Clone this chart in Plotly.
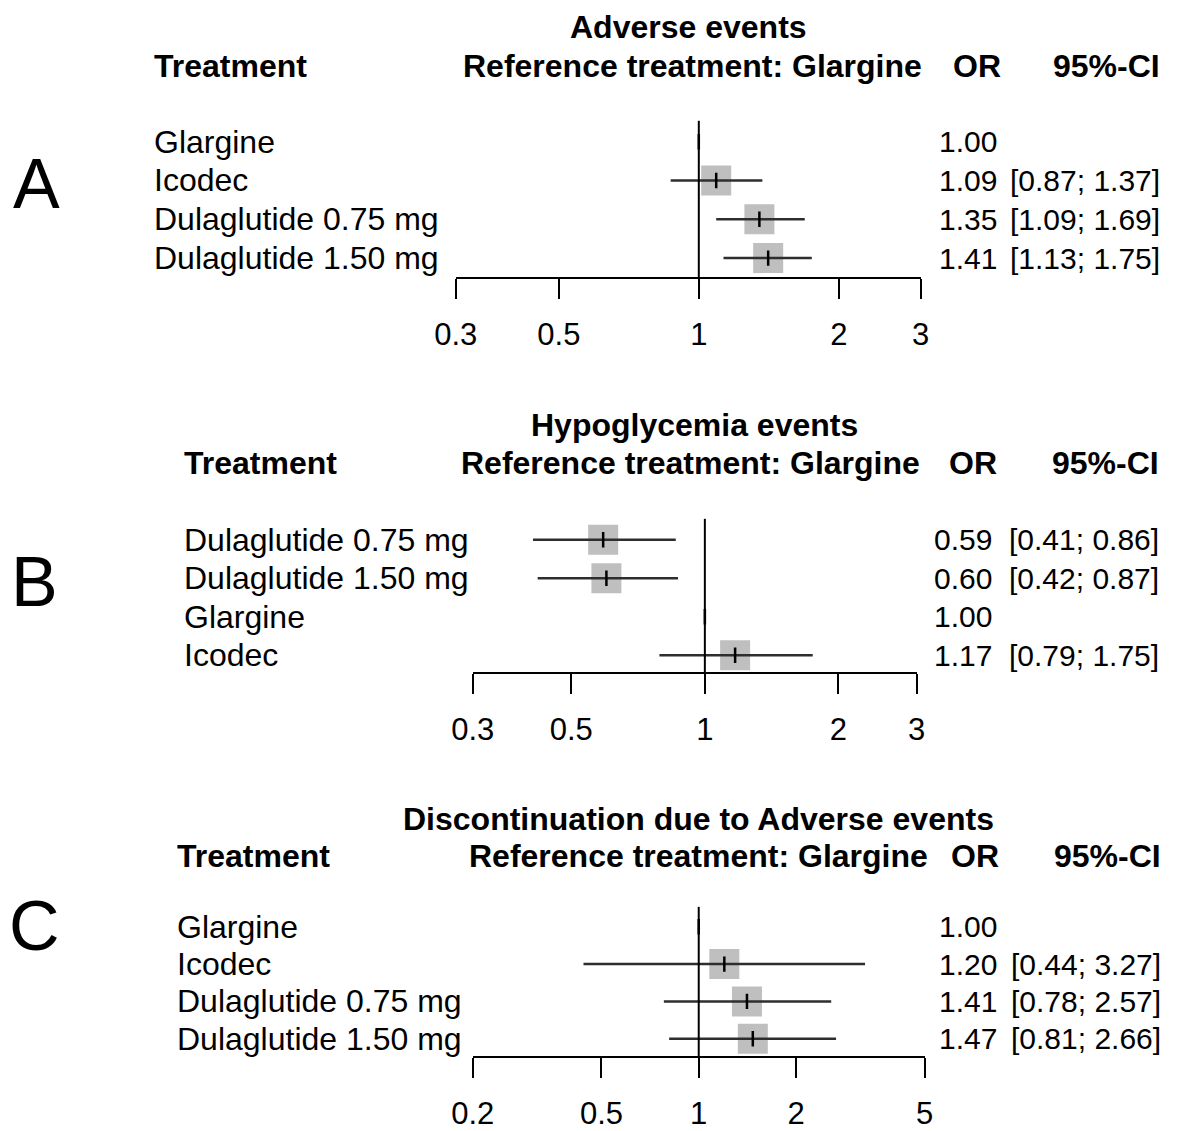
import math
import plotly.graph_objects as go

W, H = 1178, 1131
FONT = "Liberation Sans, Arial, Helvetica, sans-serif"
FS_TXT = 32
FS_NUM = 30

# observed mapping of the captured picture (page px -> picture px); compensated
SX, TX = 0.9676, 26.0
SY, TY = 0.989, 0.6

# ---------------- data ----------------
a_title = "Adverse events"
a_treat = ["Glargine", "Icodec", "Dulaglutide 0.75 mg", "Dulaglutide 1.50 mg"]
a_or = [1.00, 1.09, 1.35, 1.41]
a_lo = [None, 0.87, 1.09, 1.13]
a_hi = [None, 1.37, 1.69, 1.75]
a_ticks = [0.3, 0.5, 1, 2, 3]

b_title = "Hypoglycemia events"
b_treat = ["Dulaglutide 0.75 mg", "Dulaglutide 1.50 mg", "Glargine", "Icodec"]
b_or = [0.59, 0.60, 1.00, 1.17]
b_lo = [0.41, 0.42, None, 0.79]
b_hi = [0.86, 0.87, None, 1.75]
b_ticks = [0.3, 0.5, 1, 2, 3]

c_title = "Discontinuation due to Adverse events"
c_treat = ["Glargine", "Icodec", "Dulaglutide 0.75 mg", "Dulaglutide 1.50 mg"]
c_or = [1.00, 1.20, 1.41, 1.47]
c_lo = [None, 0.44, 0.78, 0.81]
c_hi = [None, 3.27, 2.57, 2.66]
c_ticks = [0.2, 0.5, 1, 2, 5]

panel_letters = ["A", "B", "C"]
ref_label = "Reference treatment: Glargine"

# ---------------- layout geometry (target picture pixels) ----------------
geo = [
    dict(letter_xy=(40, 186), title_y=28, head_y=67, row0=143, dy=39, axis_y=279, vtop=122,
         x_left=457, x_right=919, lab_x=155, ref_right=922, or_head=949, or_x=935, ci_right=1159),
    dict(letter_xy=(38, 586), title_y=428, head_y=466, row0=543, dy=38.7, axis_y=676, vtop=522,
         x_left=474, x_right=915, lab_x=185, ref_right=920, or_head=945, or_x=930, ci_right=1158),
    dict(letter_xy=(38, 931), title_y=824, head_y=861, row0=932, dy=37.5, axis_y=1062, vtop=912,
         x_left=474, x_right=923, lab_x=178, ref_right=928, or_head=947, or_x=935, ci_right=1160),
]

panels = [
    (a_title, a_treat, a_or, a_lo, a_hi, a_ticks),
    (b_title, b_treat, b_or, b_lo, b_hi, b_ticks),
    (c_title, c_treat, c_or, c_lo, c_hi, c_ticks),
]


def px(p):
    return ((p - TX) / SX) / W


def py(p):
    return 1 - ((p - TY) / SY) / H


fig = go.Figure()
annotations = []
shapes = []
layout = dict(
    width=W, height=H, margin=dict(l=0, r=0, t=0, b=0, pad=0),
    paper_bgcolor="white", plot_bgcolor="white", showlegend=False,
    font=dict(family=FONT, size=FS_TXT, color="black"),
)

for k, ((title, treat, orv, lo, hi, ticks), g) in enumerate(zip(panels, geo)):
    sfx = "" if k == 0 else str(k + 1)
    xa, ya = "x" + sfx, "y" + sfx
    r_bot = (g["axis_y"] - g["row0"]) / g["dy"]
    r_top = (g["vtop"] - g["row0"]) / g["dy"]
    layout["xaxis" + sfx] = dict(
        type="log", domain=[px(g["x_left"]), px(g["x_right"])],
        range=[math.log10(ticks[0]), math.log10(ticks[-1])],
        anchor=ya, showgrid=False, zeroline=False,
        showline=True, linewidth=2.2, linecolor="black",
        ticks="outside", ticklen=20, tickwidth=2.2, tickcolor="black",
        tickvals=ticks, ticktext=[f"{t:g}" for t in ticks],
        tickfont=dict(family=FONT, size=31, color="black"),
        ticklabelstandoff=9, fixedrange=True,
    )
    layout["yaxis" + sfx] = dict(
        domain=[py(g["axis_y"]), py(g["vtop"])], range=[r_bot, r_top],
        anchor=xa, visible=False, fixedrange=True,
    )
    rows = list(range(len(treat)))
    sq_x = [o for o, l in zip(orv, lo) if l is not None]
    sq_y = [i for i, l in zip(rows, lo) if l is not None]
    fig.add_trace(go.Scatter(x=sq_x, y=sq_y, xaxis=xa, yaxis=ya, mode="markers",
                             marker=dict(symbol="square", size=30, color="#bfbfbf",
                                         line=dict(width=0)), hoverinfo="skip"))
    lx, ly = [], []
    for i, l, h in zip(rows, lo, hi):
        if l is None:
            continue
        lx += [l, h, None]
        ly += [i, i, None]
    fig.add_trace(go.Scatter(x=lx, y=ly, xaxis=xa, yaxis=ya, mode="lines",
                             line=dict(color="#2e2e2e", width=2.5), hoverinfo="skip"))
    fig.add_trace(go.Scatter(x=orv, y=rows, xaxis=xa, yaxis=ya, mode="markers",
                             marker=dict(symbol="line-ns", size=11,
                                         line=dict(color="black", width=2.5)),
                             hoverinfo="skip"))
    shapes.append(dict(type="line", xref=xa, yref=ya + " domain", x0=1, x1=1, y0=0, y1=1,
                       line=dict(color="black", width=2)))

    txt = dict(family=FONT, size=FS_TXT, color="black")
    num = dict(family=FONT, size=FS_NUM, color="black")
    cx = (g["x_left"] + g["x_right"]) / 2
    annotations.append(dict(text=f"<b>{title}</b>", xref="paper", yref="paper",
                            x=px(cx), y=py(g["title_y"]), xanchor="center", yanchor="middle",
                            showarrow=False, font=txt))
    annotations.append(dict(text="<b>Treatment</b>", xref="paper", yref="paper",
                            x=px(g["lab_x"]), y=py(g["head_y"]), xanchor="left", yanchor="middle",
                            showarrow=False, font=txt))
    annotations.append(dict(text=f"<b>{ref_label}</b>", xref="paper", yref="paper",
                            x=px(g["ref_right"]), y=py(g["head_y"]), xanchor="right", yanchor="middle",
                            showarrow=False, font=txt))
    annotations.append(dict(text="<b>OR</b>", xref="paper", yref="paper",
                            x=px(g["or_head"]), y=py(g["head_y"]), xanchor="left", yanchor="middle",
                            showarrow=False, font=txt))
    annotations.append(dict(text="<b>95%-CI</b>", xref="paper", yref="paper",
                            x=px(g["ci_right"]), y=py(g["head_y"]), xanchor="right", yanchor="middle",
                            showarrow=False, font=txt))
    for i, name, o, l, h in zip(rows, treat, orv, lo, hi):
        annotations.append(dict(text=name, xref="paper", yref=ya, x=px(g["lab_x"]), y=i,
                                xanchor="left", yanchor="middle", showarrow=False, font=txt))
        annotations.append(dict(text=f"{o:.2f}", xref="paper", yref=ya, x=px(g["or_x"]), y=i,
                                xanchor="left", yanchor="middle", showarrow=False, font=num))
        if l is not None:
            annotations.append(dict(text=f"[{l:.2f}; {h:.2f}]", xref="paper", yref=ya,
                                    x=px(g["ci_right"]), y=i, xanchor="right", yanchor="middle",
                                    showarrow=False, font=num))
    lx0, ly0 = g["letter_xy"]
    annotations.append(dict(text=panel_letters[k], xref="paper", yref="paper",
                            x=px(lx0), y=py(ly0), xanchor="center", yanchor="middle",
                            showarrow=False, font=dict(family=FONT, size=70, color="black")))

layout["annotations"] = annotations
layout["shapes"] = shapes
fig.update_layout(**layout)

post = ("document.documentElement.style.margin='0';document.documentElement.style.padding='0';"
        "document.documentElement.style.overflow='hidden';"
        "document.body.style.margin='0';document.body.style.padding='0';"
        "document.body.style.overflow='hidden';")
fig.write_html("out.html", post_script=post, config={"displayModeBar": False})
